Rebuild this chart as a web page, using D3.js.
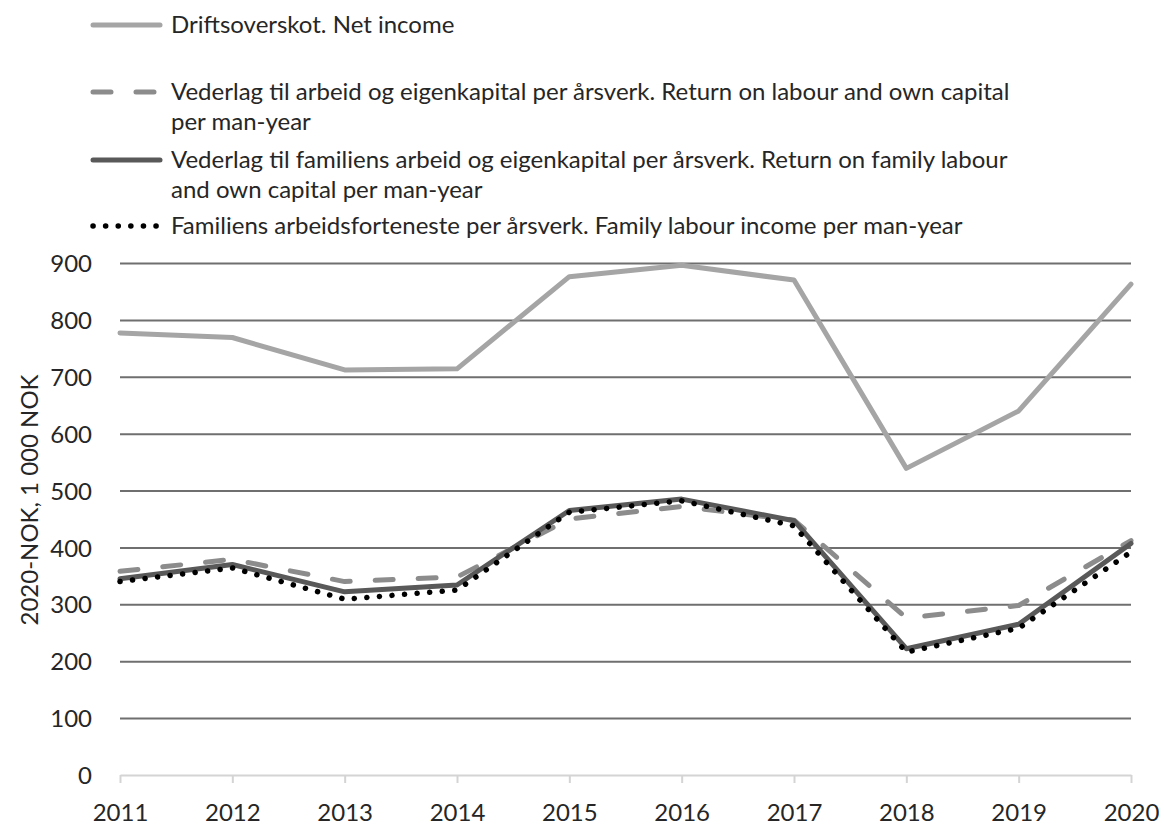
<!DOCTYPE html>
<html>
<head>
<meta charset="utf-8">
<script src="https://cdn.jsdelivr.net/npm/d3@7"></script>
<style>
  body { margin: 0; background: #fff; }
  svg text { font-family: Lato, "Open Sans", sans-serif; fill: #262626; }
</style>
</head>
<body>
<svg id="chart"></svg>
<script>
var years = [2011, 2012, 2013, 2014, 2015, 2016, 2017, 2018, 2019, 2020];
var yTicks = [0, 100, 200, 300, 400, 500, 600, 700, 800, 900];

// 1 000 NOK (2020-NOK)
var netIncome = [777, 769, 712, 714, 876, 896, 870, 539, 640, 863];
var returnLabourCapital = [358, 379, 340, 348, 450, 472, 448, 276, 298, 412];
var returnFamilyLabourCapital = [345, 370, 322, 334, 465, 485, 447, 222, 265, 407];
var familyLabourIncome = [340, 364, 309, 325, 462, 482, 438, 216, 258, 392];

var legendLines = [
    ["Driftsoverskot. Net income"],
    ["Vederlag til arbeid og eigenkapital per årsverk. Return on labour and own capital", "per man-year"],
    ["Vederlag til familiens arbeid og eigenkapital per årsverk. Return on family labour", "and own capital per man-year"],
    ["Familiens arbeidsforteneste per årsverk.  Family labour income per man-year"]
];

var width = 1164;
var height = 825;
var margin = {top: 263, bottom: 50, left: 120, right: 33};

var svg = d3.select('#chart')
    .attr('width', width)
    .attr('height', height);

var xScale = d3.scaleLinear()
    .domain([2011, 2020])
    .range([margin.left, width - margin.right]);

var yScale = d3.scaleLinear()
    .domain([0, 900])
    .range([height - margin.bottom, margin.top]);

// gridlines + y labels
var yAxis = svg.append("g")
    .attr("transform", "translate(" + margin.left + ",0)")
    .call(d3.axisLeft(yScale).tickValues(yTicks).tickSize(-(width - margin.left - margin.right)).tickPadding(28));
yAxis.select(".domain").remove();
yAxis.selectAll(".tick line")
    .attr("stroke", function (d) { return d === 0 ? "none" : "#6f6f6f"; })
    .attr("stroke-width", 2);
yAxis.selectAll("text")
    .style("font-size", "24px")
    .attr("dy", "0.36em");

// x axis
var xAxis = svg.append("g")
    .attr("transform", "translate(0," + yScale(0) + ")")
    .call(d3.axisBottom(xScale).tickValues(years).tickFormat(d3.format("d")).tickSize(8).tickSizeOuter(0).tickPadding(21));
xAxis.select(".domain").attr("stroke", "#d4d4d4").attr("stroke-width", 2);
xAxis.selectAll(".tick line").attr("stroke", "#d4d4d4").attr("stroke-width", 2);
xAxis.selectAll("text").style("font-size", "24px");

svg.append("text")
    .attr("transform", "translate(38,500)rotate(-90)")
    .attr("text-anchor", "middle")
    .style("font-size", "24px")
    .text("2020-NOK, 1 000 NOK");

var series = [
    {values: netIncome, color: "#a5a5a5", w: 5, dash: null, cap: "round"},
    {values: returnLabourCapital, color: "#8c8c8c", w: 5, dash: "18,25", cap: "round"},
    {values: returnFamilyLabourCapital, color: "#595959", w: 5, dash: null, cap: "round"},
    {values: familyLabourIncome, color: "#000000", w: 5.5, dash: "0.1,12.5", cap: "round"}
];

var line = d3.line()
    .x(function (d, i) { return xScale(years[i]); })
    .y(function (d) { return yScale(d); });

series.forEach(function (s) {
    svg.append("path")
        .datum(s.values)
        .attr("fill", "none")
        .attr("stroke", s.color)
        .attr("stroke-width", s.w)
        .attr("stroke-linejoin", "round")
        .attr("stroke-linecap", s.cap)
        .attr("stroke-dasharray", s.dash)
        .attr("d", line);
});

// legend
var legendY = [25, 92, 160, 226];
var legend = svg.append("g");
series.forEach(function (s, i) {
    legend.append("line")
        .attr("x1", 93).attr("x2", 160)
        .attr("y1", legendY[i]).attr("y2", legendY[i])
        .attr("stroke", s.color)
        .attr("stroke-width", s.w)
        .attr("stroke-linecap", s.cap)
        .attr("stroke-dasharray", s.dash);
    legendLines[i].forEach(function (t, j) {
        legend.append("text")
            .attr("x", 171)
            .attr("y", legendY[i] + 8 + j * 30)
            .style("font-size", "24px")
            .text(t);
    });
});
</script>
</body>
</html>
